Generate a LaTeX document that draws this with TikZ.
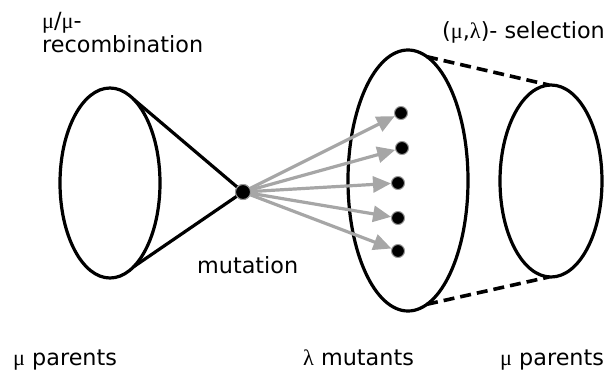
\documentclass[tikz,border=0pt]{standalone}
\usepackage{fontspec}
\setmainfont{DejaVu Sans}
\newfontfamily\grk{Liberation Serif}
\usetikzlibrary{shapes.geometric,arrows.meta,calc}
\begin{document}
\begin{tikzpicture}[x=1pt,y=-1pt,
  ring/.style={ellipse,draw,line width=3.2pt,inner sep=0pt},
  blob/.style={circle,fill=black,draw=black!40,line width=1pt,inner sep=0pt,minimum size=#1},
  blob/.default=13pt,
  lbl/.style={anchor=base west,inner sep=0pt,font=\fontsize{22.3}{26}\selectfont},
  arr/.style={draw=black!35,line width=3.2pt,-{Triangle[length=18pt,width=16pt]}},
  cone/.style={line width=3.2pt},
  dashline/.style={line width=3.6pt,dash pattern=on 11pt off 6pt}
]
\useasboundingbox (0,0) rectangle (616,381);

% ellipses
\node[ring,minimum width=100pt,minimum height=190pt] (L) at (110,183) {};
\node[ring,minimum width=120pt,minimum height=261pt] (M) at (408,180.5) {};
\node[ring,minimum width=102pt,minimum height=192pt] (R) at (551,181) {};

% mutation point
\node[blob=15pt] (mu) at (243,192) {};

% cone lines
\coordinate (lt) at ($(L.center)+(62:50pt and 95pt)$);
\coordinate (lb) at ($(L.center)+(-62:50pt and 95pt)$);
\draw[cone] (lt) -- (mu.center);
\draw[cone] (lb) -- (mu.center);
\node[blob=15pt] at (mu) {};

% dashed selection lines
\coordinate (mt) at ($(M.center)+(71.5:60pt and 130.5pt)$);
\coordinate (mb) at ($(M.center)+(-71.5:60pt and 130.5pt)$);
\coordinate (rt) at ($(R.center)+(92:51pt and 96pt)$);
\coordinate (rb) at ($(R.center)+(-92:51pt and 96pt)$);
\draw[dashline] (mt) -- (rt);
\draw[dashline] (mb) -- (rb);

% mutants
\node[blob] (d1) at (401,113) {};
\node[blob] (d2) at (402,148) {};
\node[blob] (d3) at (398,183) {};
\node[blob] (d4) at (398,218) {};
\node[blob] (d5) at (398,251) {};
\foreach \d in {d1,d2,d3,d4,d5}{
  \draw[arr] (mu) -- (\d);
}

% labels
\node[lbl] (t1) at (42,28) {{\grk μ}/{\grk μ}-};
\node[lbl] (t2) at (42,52) {recombination};
\node[lbl] (t3) at (197,273) {mutation};
\node[lbl] (t4) at (442,38) {({\grk μ},{\grk λ})- selection};
\node[lbl] (t5) at (13,365) {{\grk μ} parents};
\node[lbl] (t6) at (303,365) {{\grk λ} mutants};
\node[lbl] (t7) at (500,365) {{\grk μ} parents};
\end{tikzpicture}
\end{document}
